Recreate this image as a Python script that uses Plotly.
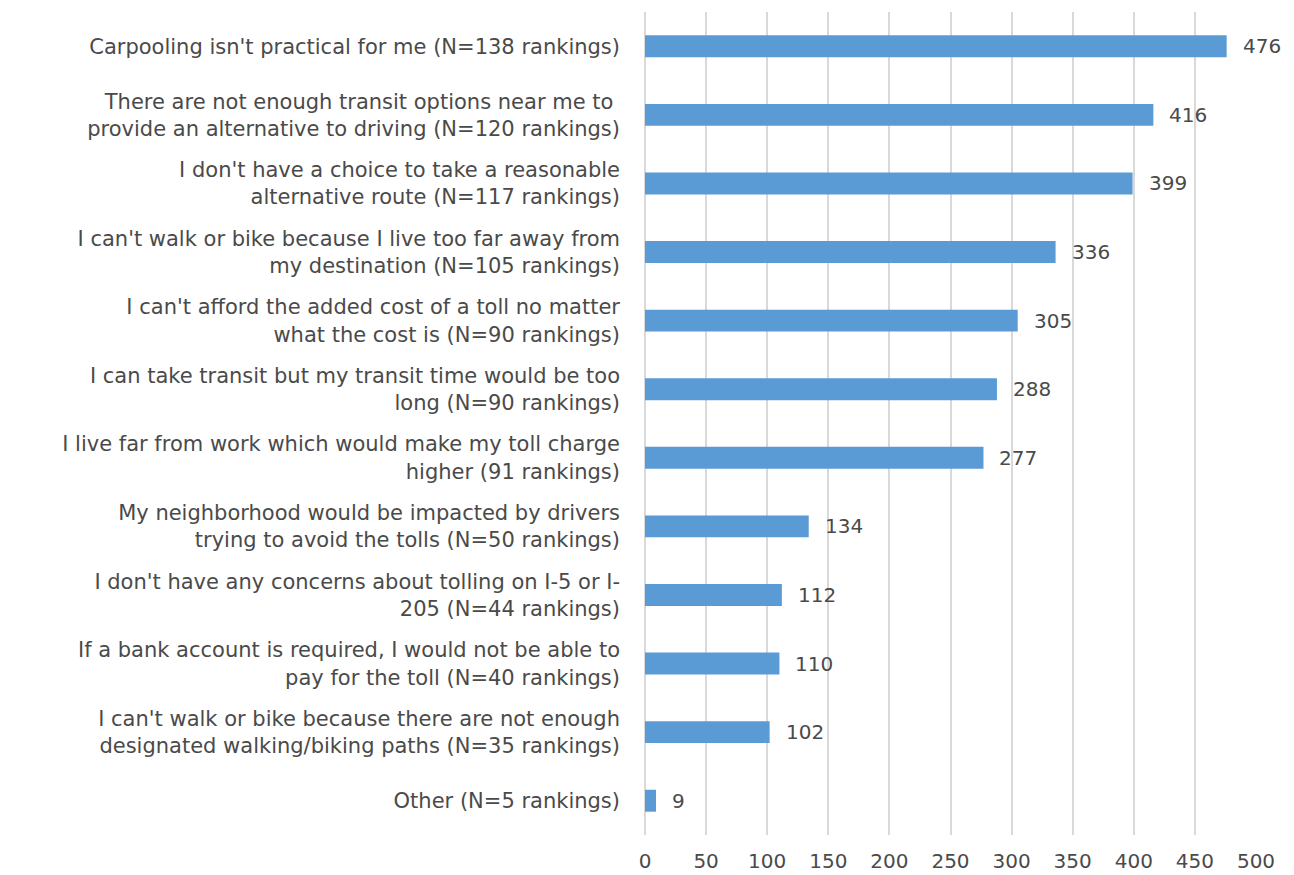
import plotly.graph_objects as go

categories = [
    "Carpooling isn't practical for me (N=138 rankings)",
    "There are not enough transit options near me to <br>provide an alternative to driving (N=120 rankings)",
    "I don't have a choice to take a reasonable<br>alternative route (N=117 rankings)",
    "I can't walk or bike because I live too far away from<br>my destination (N=105 rankings)",
    "I can't afford the added cost of a toll no matter<br>what the cost is (N=90 rankings)",
    "I can take transit but my transit time would be too<br>long (N=90 rankings)",
    "I live far from work which would make my toll charge<br>higher (91 rankings)",
    "My neighborhood would be impacted by drivers<br>trying to avoid the tolls (N=50 rankings)",
    "I don't have any concerns about tolling on I-5 or I-<br>205 (N=44 rankings)",
    "If a bank account is required, I would not be able to<br>pay for the toll (N=40 rankings)",
    "I can't walk or bike because there are not enough<br>designated walking/biking paths (N=35 rankings)",
    "Other (N=5 rankings)",
]
values = [476, 416, 399, 336, 305, 288, 277, 134, 112, 110, 102, 9]

BAR_COLOR = "#5B9BD5"
TEXT_COLOR = "#4a4a4a"
FONT = "DejaVu Sans, sans-serif"

fig = go.Figure(
    go.Bar(
        x=values,
        y=categories,
        orientation="h",
        marker=dict(color=BAR_COLOR, line=dict(width=0)),
        width=0.32,
    )
)

# value labels to the right of each bar
for cat, val in zip(categories, values):
    fig.add_annotation(
        x=val, y=cat, text=str(val), showarrow=False,
        xanchor="left", xshift=14,
        font=dict(size=20, color=TEXT_COLOR, family=FONT),
    )

fig.update_layout(
    width=1294,
    height=875,
    template="plotly_white",
    paper_bgcolor="white",
    plot_bgcolor="white",
    margin=dict(l=637, r=46, t=4, b=48),
    font=dict(family=FONT, size=20, color=TEXT_COLOR),
    showlegend=False,
    bargap=0.68,
)
fig.update_xaxes(
    range=[0, 500],
    dtick=50,
    showgrid=True,
    gridcolor="#d9d9d9",
    gridwidth=2,
    zeroline=True,
    zerolinecolor="#d9d9d9",
    zerolinewidth=2,
    showline=False,
    ticklabelstandoff=12,
    tickfont=dict(size=20, color=TEXT_COLOR),
)
fig.update_yaxes(
    autorange="reversed",
    showgrid=False,
    ticklabelstandoff=24,
    tickfont=dict(size=21, color=TEXT_COLOR),
)

fig.write_html("out.html")
